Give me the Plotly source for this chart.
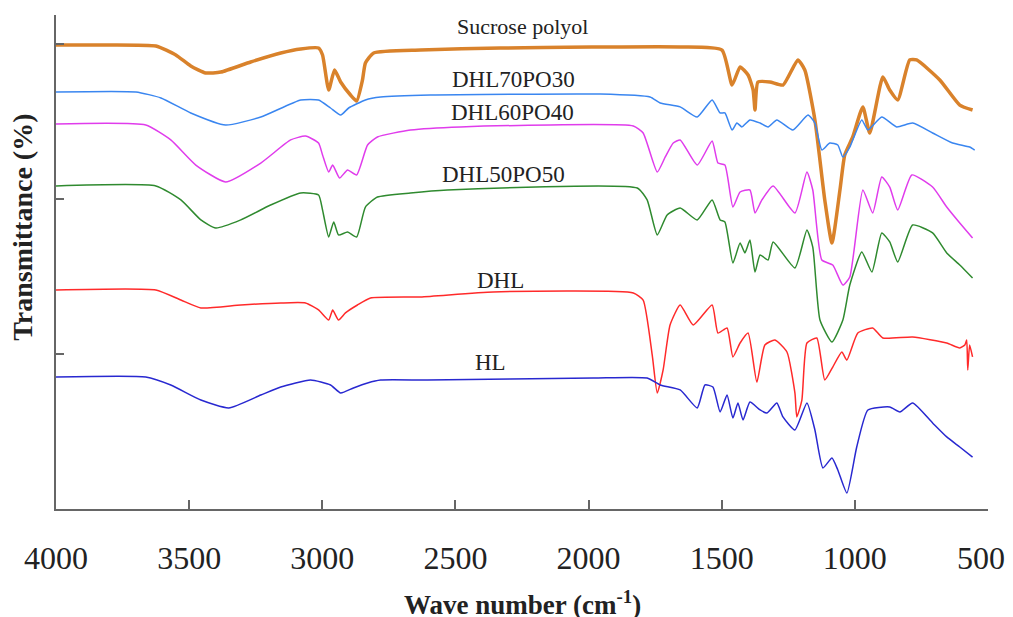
import plotly.graph_objects as go

# wave numbers (cm-1) and offset transmittance (a.u.)
sp_wn = [4000, 3831, 3625, 3550, 3494, 3438, 3381, 3269, 3156, 3081, 3014, 2999, 2976, 2954, 2931,
         2894, 2871, 2849, 2838, 2807, 2631, 2331, 1656, 1499, 1461, 1431, 1401, 1382, 1375, 1364,
         1319, 1270, 1214, 1188, 1150, 1113, 1086, 1056, 1038, 1008, 970, 944, 895, 869, 839, 794,
         768, 681, 606, 558]
sp_t = [2.994, 2.994, 2.987, 2.929, 2.858, 2.813, 2.819, 2.884, 2.942, 2.968, 2.974, 2.929, 2.703,
        2.832, 2.755, 2.671, 2.632, 2.768, 2.877, 2.942, 2.961, 2.974, 2.981, 2.961, 2.735, 2.852,
        2.800, 2.703, 2.574, 2.755, 2.755, 2.735, 2.897, 2.832, 2.510, 1.994, 1.716, 2.058, 2.284,
        2.400, 2.594, 2.426, 2.787, 2.703, 2.639, 2.897, 2.897, 2.768, 2.606, 2.574]

d70_wn = [4000, 3700, 3606, 3494, 3363, 3231, 3081, 3014, 2969, 2931, 2901, 2838, 2781, 2594, 1956,
          1769, 1731, 1656, 1592, 1536, 1506, 1488, 1461, 1443, 1424, 1394, 1356, 1326, 1293, 1233,
          1176, 1150, 1124, 1094, 1064, 1045, 1019, 974, 951, 899, 843, 783, 708, 633, 569, 550]
d70_t = [2.690, 2.690, 2.652, 2.555, 2.477, 2.529, 2.639, 2.639, 2.587, 2.542, 2.587, 2.639, 2.658,
         2.671, 2.677, 2.658, 2.619, 2.594, 2.529, 2.639, 2.555, 2.555, 2.445, 2.490, 2.465, 2.510,
         2.490, 2.465, 2.510, 2.445, 2.542, 2.490, 2.316, 2.361, 2.348, 2.271, 2.335, 2.510, 2.445,
         2.529, 2.465, 2.490, 2.426, 2.361, 2.335, 2.316]

d60_wn = [4000, 3663, 3569, 3475, 3363, 3231, 3119, 3063, 3014, 2999, 2976, 2961, 2935, 2905, 2871,
          2830, 2793, 2669, 2481, 1832, 1795, 1742, 1712, 1682, 1656, 1592, 1536, 1514, 1488, 1458,
          1431, 1394, 1375, 1349, 1307, 1225, 1180, 1158, 1124, 1083, 1045, 1019, 970, 933, 899,
          869, 839, 786, 708, 655, 606, 558]
d60_t = [2.484, 2.477, 2.381, 2.219, 2.110, 2.232, 2.381, 2.406, 2.361, 2.284, 2.174, 2.219, 2.135,
         2.187, 2.155, 2.348, 2.400, 2.445, 2.465, 2.471, 2.426, 2.174, 2.271, 2.361, 2.381, 2.219,
         2.374, 2.232, 2.219, 1.948, 2.045, 2.058, 1.910, 1.994, 2.084, 1.910, 2.174, 2.058, 1.606,
         1.574, 1.445, 1.497, 2.058, 1.910, 2.142, 2.077, 1.929, 2.155, 2.077, 1.948, 1.845, 1.748]

d50_wn = [4000, 3625, 3531, 3456, 3400, 3306, 3194, 3081, 3014, 2999, 2976, 2957, 2939, 2905, 2871,
          2838, 2793, 2669, 2530, 1817, 1780, 1742, 1705, 1656, 1592, 1536, 1506, 1488, 1458, 1431,
          1413, 1394, 1375, 1356, 1326, 1307, 1225, 1180, 1158, 1131, 1086, 1045, 1019, 974, 936,
          899, 869, 839, 783, 708, 655, 606, 558]
d50_t = [2.084, 2.084, 1.994, 1.865, 1.813, 1.865, 1.961, 2.039, 2.026, 1.929, 1.755, 1.852, 1.768,
         1.787, 1.755, 1.948, 2.013, 2.039, 2.058, 2.071, 1.994, 1.768, 1.897, 1.942, 1.865, 1.994,
         1.865, 1.852, 1.587, 1.716, 1.652, 1.735, 1.529, 1.639, 1.606, 1.723, 1.555, 1.800, 1.690,
         1.219, 1.077, 1.219, 1.445, 1.658, 1.529, 1.781, 1.723, 1.594, 1.832, 1.781, 1.652, 1.574,
         1.490]

dhl_wn = [4000, 3625, 3531, 3456, 3306, 3156, 3063, 3014, 2976, 2961, 2939, 2913, 2868, 2819, 2631,
          2358, 1832, 1795, 1761, 1742, 1720, 1694, 1656, 1607, 1536, 1514, 1480, 1458, 1431, 1401,
          1368, 1338, 1300, 1255, 1225, 1218, 1199, 1180, 1143, 1113, 1083, 1049, 1030, 989, 933,
          895, 783, 655, 606, 587, 580, 576, 569, 558]
dhl_t = [1.413, 1.413, 1.348, 1.297, 1.316, 1.329, 1.329, 1.284, 1.219, 1.284, 1.219, 1.265, 1.316,
         1.361, 1.368, 1.400, 1.394, 1.348, 0.994, 0.748, 0.897, 1.187, 1.316, 1.187, 1.316, 1.135,
         1.168, 0.981, 1.071, 1.135, 0.819, 1.058, 1.090, 1.013, 0.748, 0.594, 0.703, 1.071, 1.103,
         0.832, 0.916, 1.013, 0.961, 1.135, 1.168, 1.103, 1.110, 1.071, 1.039, 1.058, 1.090, 0.897,
         1.058, 0.981]

hl_wn = [4000, 3663, 3569, 3456, 3351, 3231, 3156, 3044, 2969, 2931, 2883, 2830, 2781, 2605, 1982,
         1780, 1731, 1656, 1592, 1563, 1533, 1506, 1480, 1458, 1439, 1420, 1394, 1356, 1330, 1293,
         1270, 1225, 1180, 1150, 1120, 1086, 1064, 1030, 993, 951, 869, 831, 783, 708, 655, 606, 558]
hl_t = [0.852, 0.852, 0.800, 0.703, 0.652, 0.735, 0.787, 0.832, 0.800, 0.748, 0.781, 0.813, 0.832,
        0.832, 0.845, 0.845, 0.800, 0.768, 0.652, 0.800, 0.787, 0.626, 0.735, 0.587, 0.684, 0.574,
        0.690, 0.639, 0.619, 0.684, 0.594, 0.510, 0.684, 0.510, 0.265, 0.329, 0.252, 0.103, 0.400,
        0.639, 0.658, 0.626, 0.684, 0.555, 0.465, 0.400, 0.335]

names = ['Sucrose polyol', 'DHL70PO30', 'DHL60PO40', 'DHL50PO50', 'DHL', 'HL']
xticks = [4000, 3500, 3000, 2500, 2000, 1500, 1000, 500]
xtick_text = ['4000', '3500', '3000', '2500', '2000', '1500', '1000', '500']

serif = 'Liberation Serif, Times New Roman, serif'

fig = go.Figure()
series = [
    (sp_wn, sp_t, '#D9822B', 3.5),
    (d70_wn, d70_t, '#3A86F0', 1.5),
    (d60_wn, d60_t, '#E03CEC', 1.5),
    (d50_wn, d50_t, '#2F8A2F', 1.5),
    (dhl_wn, dhl_t, '#FF2A2A', 1.5),
    (hl_wn, hl_t, '#2828D0', 1.5),
]
for (wn, t, col, w), nm in zip(series, names):
    fig.add_trace(go.Scatter(x=wn, y=t, mode='lines', name=nm,
                             line=dict(color=col, width=w, shape='spline', smoothing=0.5)))

# curve labels, placed over each spectrum
label_pos = [(2249, 3.110, 22), (2283, 2.768, 23), (2286, 2.555, 23),
             (2320, 2.155, 23), (2331, 1.477, 23), (2369, 0.948, 23)]
for nm, (lx, ly, fs) in zip(names, label_pos):
    fig.add_annotation(x=lx, y=ly, text=nm, showarrow=False,
                       font=dict(family=serif, size=fs, color='#222'))

fig.add_annotation(x=-0.036, y=0.57, xref='paper', yref='paper', xanchor='center',
                   yanchor='middle', text='<b>Transmittance (%)</b>', textangle=-90,
                   showarrow=False, font=dict(family=serif, size=28, color='#222'))
fig.add_annotation(x=0.5, y=-0.19, xref='paper', yref='paper', yanchor='middle',
                   text='<b>Wave number (cm<sup>-1</sup>)</b>',
                   showarrow=False, font=dict(family=serif, size=27, color='#222'))

# the last tick label gets clipped at the window edge, so draw it nudged slightly inwards
fig.add_annotation(x=xticks[-1], y=-0.1, xref='x', yref='paper', xanchor='center',
                   yanchor='middle', xshift=-7, text=xtick_text[-1], showarrow=False,
                   font=dict(family=serif, size=32, color='#222'))

fig.update_xaxes(range=[4000, 500], tickvals=xticks, ticktext=xtick_text[:-1] + [''],
                 ticks='inside', ticklen=9, tickwidth=1.5,
                 tickcolor='#666', showline=True, linecolor='#666', linewidth=2, showgrid=False,
                 zeroline=False, ticklabelstandoff=20, automargin=False, ticklabeloverflow='allow',
                 tickfont=dict(family=serif, size=32, color='#222'))
fig.update_yaxes(range=[0, 3.187], tickvals=[1, 2, 3], ticks='inside', ticklen=8, tickwidth=1.5,
                 tickcolor='#666', showticklabels=False, showline=True, linecolor='#666',
                 linewidth=2, showgrid=False, zeroline=False, automargin=False)

# the page body adds ~8px, so margins are shifted up/left by that much
fig.update_layout(width=1013, height=617, showlegend=False,
                  margin=dict(l=48, r=33, t=7, b=116),
                  plot_bgcolor='white', paper_bgcolor='white')

fig.write_html("out.html")
